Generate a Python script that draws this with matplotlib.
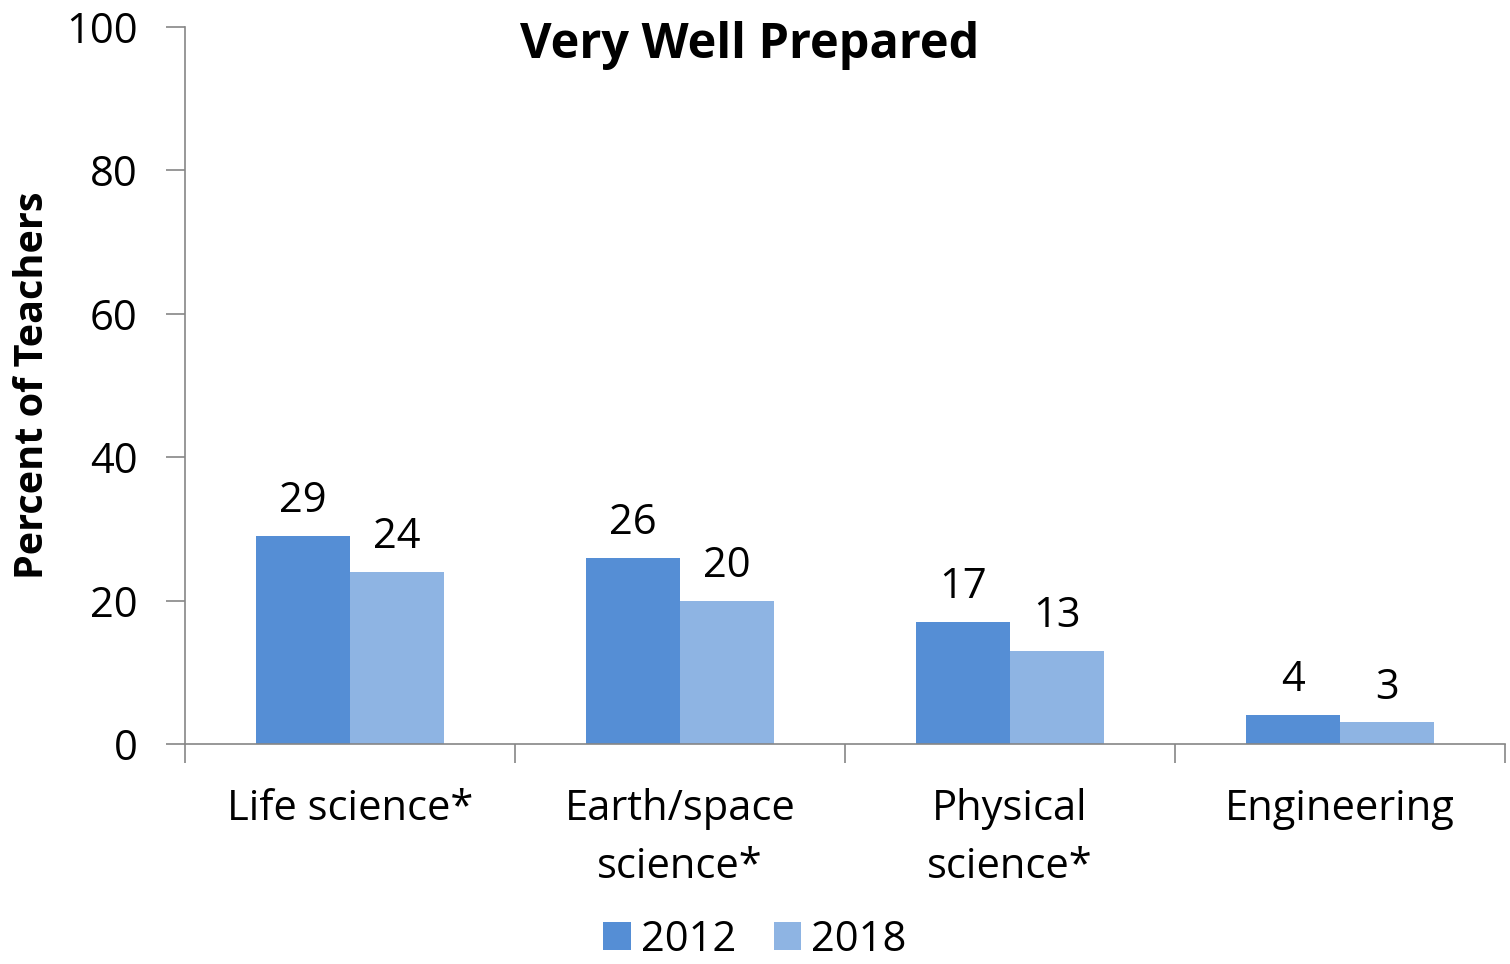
import matplotlib.pyplot as plt
import numpy as np

categories = ["Life science*", "Earth/space\nscience*", "Physical\nscience*", "Engineering"]
years = ["2012", "2018"]
vals_2012 = [29, 26, 17, 4]
vals_2018 = [24, 20, 13, 3]

colors = ["#558ED5", "#8EB4E3"]
axis_gray = "#868686"

plt.rcParams['font.family'] = ['Open Sans', 'DejaVu Sans']

fig = plt.figure(figsize=(15.1, 9.64), dpi=100)
ax = fig.add_axes([185 / 1510, 1 - 744 / 964, 1320 / 1510, 717 / 964])

x = np.arange(len(categories))
w = 0.285
b1 = ax.bar(x - w / 2, vals_2012, w, color=colors[0], label=years[0])
b2 = ax.bar(x + w / 2, vals_2018, w, color=colors[1], label=years[1])

for bars in (b1, b2):
    for rect in bars:
        h = rect.get_height()
        ax.annotate(f"{h:g}", (rect.get_x() + rect.get_width() / 2, h),
                    xytext=(0, 10), textcoords="offset points",
                    ha="center", va="bottom", fontsize=30)

ax.set_xlim(-0.5, len(categories) - 0.5)
ax.set_ylim(0, 100)
ax.set_yticks(range(0, 101, 20))
ax.tick_params(axis="y", labelsize=30, length=14, width=1.2, color=axis_gray, pad=20)

# category labels centered, ticks at boundaries
ax.set_xticks(x)
ax.set_xticklabels(categories, fontsize=30, linespacing=1.5)
ax.tick_params(axis="x", length=0, pad=32)
ax.set_xticks(np.arange(-0.5, len(categories)), minor=True)
ax.tick_params(axis="x", which="minor", length=14, width=1.2, color=axis_gray)

for s in ("top", "right"):
    ax.spines[s].set_visible(False)
for s in ("left", "bottom"):
    ax.spines[s].set_color(axis_gray)
    ax.spines[s].set_linewidth(1.2)

ax.set_ylabel("Percent of Teachers", fontsize=28.5, fontweight="bold")
ax.yaxis.set_label_coords(-0.101, 0.5)

fig.text(750 / 1510, 1 - 46 / 964, "Very Well Prepared", ha="center", va="center",
         fontsize=35, fontweight="bold")

fig.legend(handles=[b1, b2], labels=years, loc="center", bbox_to_anchor=(0.5, 1 - 940 / 964),
           ncol=2, frameon=False, fontsize=30, handlelength=0.65, handleheight=0.65,
           handletextpad=0.25, columnspacing=0.9, borderpad=0.1)

fig.savefig("out.png", dpi=100)
